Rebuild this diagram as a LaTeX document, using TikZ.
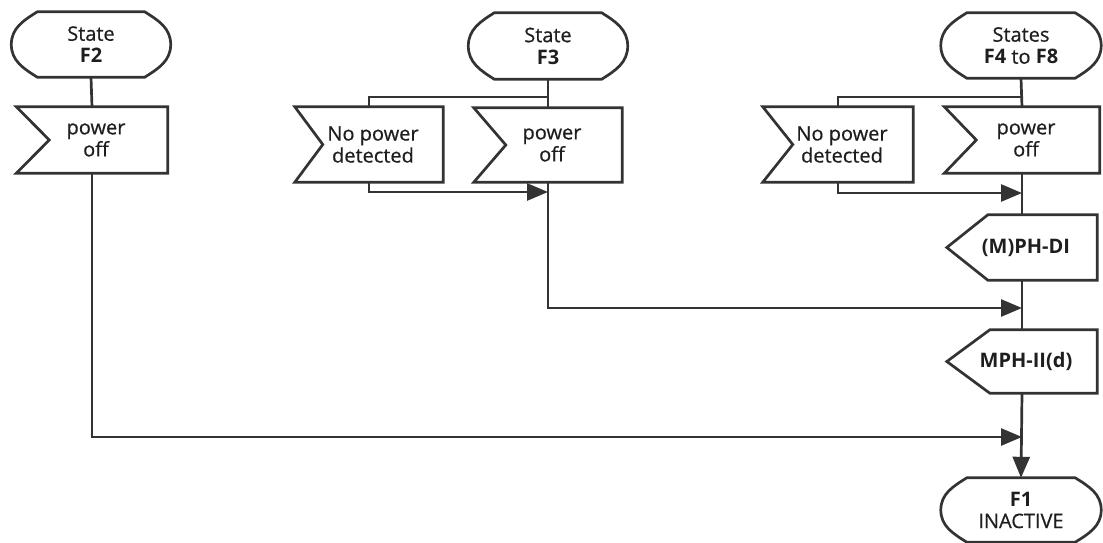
\documentclass[tikz,border=0pt]{standalone}
\usepackage{fontspec}
\setmainfont{Open Sans}[UprightFeatures={FakeBold=0.6}]
\usetikzlibrary{arrows.meta}
\definecolor{lc}{HTML}{333333}
\definecolor{tc}{HTML}{1E1E1E}
\newcommand{\sigin}[2]{\draw[ln] (#1.north west) -- (#1.north east) -- (#1.south east) -- (#1.south west) -- ([xshift=#2]#1.west) -- cycle;}
\newcommand{\sigout}[2]{\draw[ln] (#1.north east) -- (#1.south east) -- ([xshift=#2]#1.south west) -- (#1.west) -- ([xshift=#2]#1.north west) -- cycle;}
\newcommand{\termshape}[1]{\draw[ln] ([xshift=26]#1.north west) -- ([xshift=-26]#1.north east) to[out=-32,in=90] (#1.east) to[out=-90,in=32] ([xshift=-26]#1.south east) -- ([xshift=26]#1.south west) to[out=148,in=-90] (#1.west) to[out=90,in=-148] cycle;}
\begin{document}
\begin{tikzpicture}[x=1pt,y=-1pt,
 ln/.style={line width=2.7pt, draw=lc, line join=miter},
 conn/.style={line width=2.7pt, draw=lc},
 arr/.style={conn, -{Triangle[length=21pt,width=17pt,fill=lc]}},
 box/.style={inner sep=0pt, align=center, font=\fontsize{20}{22}\selectfont, text=tc},
]
\useasboundingbox (0,0) rectangle (1103,543);

% state terminators
\node[box, minimum width=159pt, minimum height=65pt] (s2) at (91,44.5) {State\\\textbf{F2}};
\node[box, minimum width=159pt, minimum height=66pt] (s3) at (548,46) {State\\\textbf{F3}};
\node[box, minimum width=160pt, minimum height=65pt] (s4) at (1021,45.5) {States\\\textbf{F4} to \textbf{F8}};
\node[box, minimum width=160pt, minimum height=64pt] (f1) at (1021,510) {\textbf{F1}\\INACTIVE};
\termshape{s2}\termshape{s3}\termshape{s4}\termshape{f1}

% input signals
\node[box, minimum width=151pt, minimum height=66pt] (p2) at (92,140) {\hspace*{8pt}power\\\hspace*{8pt}off};
\node[box, minimum width=148pt, minimum height=75pt] (n3) at (369,144.5) {\hspace*{8pt}No power\\\hspace*{8pt}detected};
\node[box, minimum width=148pt, minimum height=74pt] (p3) at (548,145) {\hspace*{8pt}power\\\hspace*{8pt}off};
\node[box, minimum width=150pt, minimum height=75pt] (n4) at (838,144.5) {\hspace*{8pt}No power\\\hspace*{8pt}detected};
\node[box, minimum width=155pt, minimum height=66pt] (p4) at (1022,140) {\hspace*{8pt}power\\\hspace*{8pt}off};
\sigin{p2}{33}\sigin{n3}{28}\sigin{p3}{32}\sigin{n4}{30}\sigin{p4}{32}

% output signals
\node[box, minimum width=150pt, minimum height=65pt] (m1) at (1022,247.5) {\hspace*{8pt}\textbf{(M)PH-DI}};
\node[box, minimum width=150pt, minimum height=63pt] (m2) at (1022,361.5) {\hspace*{8pt}\textbf{MPH-II(d)}};
\sigout{m1}{41}\sigout{m2}{43}

% junction coordinates
\coordinate (b3) at (548,97);
\coordinate (b4) at (1022,97);
\coordinate (j3a) at (548,192);
\coordinate (j4a) at (1022,193);
\coordinate (j3) at (1022,308);
\coordinate (j2) at (1022,437);

% connectors
\draw[conn] (s2.south) -- (p2.north);
\draw[arr] (p2.south) |- (j2);

\draw[conn] (s3.south) -- (p3.north);
\draw[conn] (b3) -| (n3.north);
\draw[arr] (n3.south) |- (j3a);
\draw[arr] (p3.south) |- (j3);

\draw[conn] (s4.south) -- (p4.north);
\draw[conn] (b4) -| (n4.north);
\draw[arr] (n4.south) |- (j4a);
\draw[conn] (p4.south) -- (m1.north);
\draw[conn] (m1.south) -- (m2.north);
\draw[arr] (m2.south) -- (f1.north);
\end{tikzpicture}
\end{document}
